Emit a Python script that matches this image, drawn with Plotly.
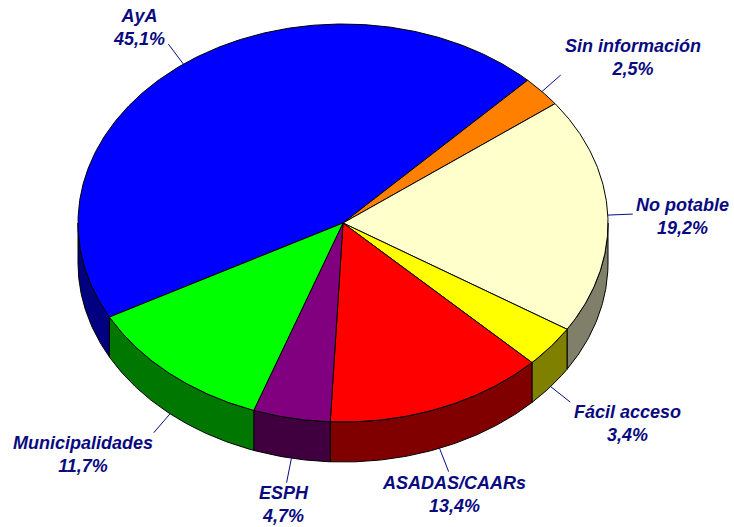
import numpy as np
import plotly.graph_objects as go

# ---- data ----
categories = ["AyA", "Sin información", "No potable", "Fácil acceso",
              "ASADAS/CAARs", "ESPH", "Municipalidades"]
percent = [45.1, 2.5, 19.2, 3.4, 13.4, 4.7, 11.7]

# ---- style ----
face_colors = ["#0000FF", "#FF8000", "#FFFFCC", "#FFFF00", "#FF0000", "#800080", "#00FF00"]
side_colors = ["#000080", "#804000", "#80806A", "#808000", "#800000", "#400040", "#007800"]
label_pos = [(139, 27), (633, 57), (682, 216), (627, 423), (454, 494), (284, 504), (83, 454)]
TEXT_COLOR = "#0A0A80"
FONT = "Liberation Sans, Arial, sans-serif"

W, H = 734, 527
CX, CY, RX, RY, DEPTH = 343, 223, 265, 199, 40
START = 208.2  # math degrees, slices go clockwise
LEADER = 25


def pt(theta_deg, drop=0.0):
    t = np.radians(theta_deg)
    return CX + RX * np.cos(t), CY - RY * np.sin(t) + drop


total = sum(percent)
angles = []
a = START
for v in percent:
    span = 360.0 * v / total
    angles.append((a, a - span))
    a -= span

fig = go.Figure()

# side walls (front half only)
for (a0, a1), col in zip(angles, side_colors):
    lo, hi = a1, a0
    for vlo, vhi in [(-180, 0), (180, 360), (-540, -360)]:
        s, e = max(lo, vlo), min(hi, vhi)
        if e - s <= 0:
            continue
        th = np.linspace(e, s, max(3, int((e - s) * 2)))
        xt, yt = pt(th)
        xb, yb = pt(th[::-1], DEPTH)
        xs = np.concatenate([xt, xb, xt[:1]])
        ys = np.concatenate([yt, yb, yt[:1]])
        fig.add_trace(go.Scatter(x=xs, y=ys, mode="lines", fill="toself",
                                 fillcolor=col, line=dict(color="black", width=1),
                                 hoverinfo="skip", showlegend=False))

# top faces
for (a0, a1), col, name, v in zip(angles, face_colors, categories, percent):
    th = np.linspace(a0, a1, max(3, int((a0 - a1) * 2)))
    xa, ya = pt(th)
    xs = np.concatenate([[CX], xa, [CX]])
    ys = np.concatenate([[CY], ya, [CY]])
    fig.add_trace(go.Scatter(x=xs, y=ys, mode="lines", fill="toself",
                             fillcolor=col, line=dict(color="black", width=1),
                             name=name, hoverinfo="text",
                             text=f"{name}: {v}%", showlegend=False))

# leaders and labels
for (a0, a1), name, v, (lx, ly) in zip(angles, categories, percent, label_pos):
    mid = (a0 + a1) / 2
    drop = DEPTH if np.sin(np.radians(mid)) < 0 else 0
    x0, y0 = pt(mid, drop)
    t = np.radians(mid)
    x1, y1 = x0 + LEADER * np.cos(t), y0 - LEADER * np.sin(t)
    fig.add_trace(go.Scatter(x=[x0, x1], y=[y0, y1], mode="lines",
                             line=dict(color=TEXT_COLOR, width=1),
                             hoverinfo="skip", showlegend=False))
    txt = f"{v:.1f}".replace(".", ",") + "%"
    fig.add_annotation(x=lx, y=ly, xref="x", yref="y", showarrow=False,
                       text=f"<b><i>{name}<br>{txt}</i></b>",
                       font=dict(family=FONT, size=18, color=TEXT_COLOR),
                       xanchor="center", yanchor="middle", align="center")

fig.update_layout(
    width=W, height=H,
    margin=dict(l=0, r=0, t=0, b=0),
    paper_bgcolor="white", plot_bgcolor="white",
    xaxis=dict(range=[0, W], visible=False, fixedrange=True),
    yaxis=dict(range=[H, 0], visible=False, fixedrange=True),
    showlegend=False,
)

fig.write_html("out.html", config={"displayModeBar": False},
               post_script="document.body.style.margin='0';document.body.style.overflow='hidden';")
